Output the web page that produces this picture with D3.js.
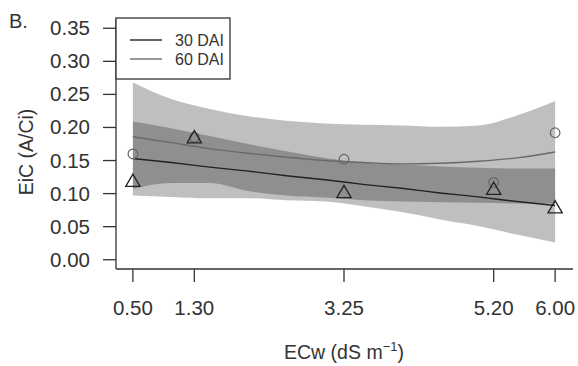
<!DOCTYPE html>
<html>
<head>
<meta charset="utf-8">
<script src="https://cdn.jsdelivr.net/npm/d3@7"></script>
<style>
  body { margin: 0; background: #fff; }
  text { font-family: "Liberation Sans", Arial, sans-serif; fill: #333; }
</style>
</head>
<body>
<div id="chart"></div>
<script>
// observed salinity levels and the two sampling dates
var levels = [0.50, 1.30, 3.25, 5.20, 6.00];
var levelLabels = ["0.50", "1.30", "3.25", "5.20", "6.00"];
var obs30 = [0.117, 0.183, 0.100, 0.105, 0.077];
var obs60 = [0.160, 0.185, 0.152, 0.117, 0.192];

// fitted curves and confidence bands
var fitX = [0.5, 1.0, 1.5, 2.0, 2.5, 3.0, 3.5, 4.0, 4.5, 5.0, 5.5, 6.0];
var fit30 = [0.153, 0.147, 0.140, 0.134, 0.127, 0.121, 0.114, 0.108, 0.101, 0.095, 0.088, 0.082];
var up30 = [0.209, 0.199, 0.187, 0.175, 0.164, 0.154, 0.147, 0.144, 0.141, 0.139, 0.138, 0.138];
var lo30 = [0.097, 0.095, 0.093, 0.093, 0.090, 0.088, 0.081, 0.072, 0.061, 0.051, 0.038, 0.026];
var fit60 = [0.186, 0.177, 0.168, 0.161, 0.155, 0.150, 0.147, 0.145, 0.146, 0.149, 0.154, 0.163];
var up60 = [0.268, 0.243, 0.228, 0.217, 0.210, 0.206, 0.204, 0.203, 0.201, 0.203, 0.218, 0.240];
var lo60 = [0.107, 0.116, 0.116, 0.104, 0.097, 0.094, 0.090, 0.088, 0.087, 0.086, 0.085, 0.085];

var yTicks = [0, 0.05, 0.10, 0.15, 0.20, 0.25, 0.30, 0.35];

var width = 578, height = 366;
var axisColor = "#333";

var svg = d3.select("#chart").append("svg")
    .attr("width", width)
    .attr("height", height);

// plot region like R's default 4% padding
var x = d3.scaleLinear().domain([0.28, 6.22]).range([116, 572]);
var y = d3.scaleLinear().domain([-0.014, 0.364]).range([269, 19]);

// bands: two translucent grey layers, overlap comes out darker
function band(up, lo) {
    return d3.area()
        .x(function(d, i) { return x(fitX[i]); })
        .y0(function(d, i) { return y(lo[i]); })
        .y1(function(d, i) { return y(up[i]); })
        .curve(d3.curveMonotoneX)(fitX);
}
svg.append("path").attr("d", band(up60, lo60))
    .attr("fill", "#000").attr("fill-opacity", 0.25);
svg.append("path").attr("d", band(up30, lo30))
    .attr("fill", "#000").attr("fill-opacity", 0.25);

// fitted lines
function fitLine(vals) {
    return d3.line()
        .x(function(d, i) { return x(fitX[i]); })
        .y(function(d, i) { return y(vals[i]); })
        .curve(d3.curveMonotoneX)(fitX);
}
svg.append("path").attr("d", fitLine(fit60))
    .attr("fill", "none").attr("stroke", "#6a6a6a").attr("stroke-width", 1.4);
svg.append("path").attr("d", fitLine(fit30))
    .attr("fill", "none").attr("stroke", "#222").attr("stroke-width", 1.4);

// points
svg.selectAll("circle.p60")
    .data(obs60)
    .enter()
    .append("circle")
    .attr("class", "p60")
    .attr("cx", function(d, i) { return x(levels[i]); })
    .attr("cy", function(d) { return y(d); })
    .attr("r", 4.8)
    .attr("fill", "none")
    .attr("stroke", "#666")
    .attr("stroke-width", 1.2);

var tri = d3.symbol().type(d3.symbolTriangle).size(88);
svg.selectAll("path.p30")
    .data(obs30)
    .enter()
    .append("path")
    .attr("class", "p30")
    .attr("d", tri)
    .attr("transform", function(d, i) {
        return "translate(" + x(levels[i]) + "," + y(d) + ")";
    })
    .attr("fill", "none")
    .attr("stroke", "#222")
    .attr("stroke-width", 1.3);

// axes (R style, box only left and bottom)
var axes = svg.append("g").attr("stroke", axisColor).attr("stroke-width", 1.3);
axes.append("line").attr("x1", 116).attr("x2", 116).attr("y1", 19).attr("y2", 269);
axes.append("line").attr("x1", 116).attr("x2", 573).attr("y1", 269).attr("y2", 269);

axes.selectAll("line.yt").data(yTicks).enter().append("line")
    .attr("class", "yt")
    .attr("x1", 103).attr("x2", 116)
    .attr("y1", function(d) { return y(d); })
    .attr("y2", function(d) { return y(d); });

axes.selectAll("line.xt").data(levels).enter().append("line")
    .attr("class", "xt")
    .attr("x1", function(d) { return x(d); })
    .attr("x2", function(d) { return x(d); })
    .attr("y1", 269).attr("y2", 282);

svg.selectAll("text.yl").data(yTicks).enter().append("text")
    .attr("class", "yl")
    .attr("x", 90)
    .attr("y", function(d) { return y(d) + 7; })
    .attr("text-anchor", "end")
    .style("font-size", "20.5px")
    .text(function(d) { return d3.format(".2f")(d); });

svg.selectAll("text.xl").data(levels).enter().append("text")
    .attr("class", "xl")
    .attr("x", function(d) { return x(d); })
    .attr("y", 315)
    .attr("text-anchor", "middle")
    .style("font-size", "20.5px")
    .text(function(d, i) { return levelLabels[i]; });

// axis titles
var xt = svg.append("text")
    .attr("x", x(3.25))
    .attr("y", 359)
    .attr("text-anchor", "middle")
    .style("font-size", "19.5px");
xt.append("tspan").text("ECw (dS m");
xt.append("tspan").attr("dy", -8).style("font-size", "13px").text("\u22121");
xt.append("tspan").attr("dy", 8).text(")");

svg.append("text")
    .attr("transform", "translate(33,152) rotate(-90)")
    .attr("text-anchor", "middle")
    .style("font-size", "19.5px")
    .text("EiC (A/Ci)");

svg.append("text")
    .attr("x", 9)
    .attr("y", 28)
    .style("font-size", "20px")
    .text("B.");

// legend
var leg = svg.append("g");
leg.append("rect")
    .attr("x", 116).attr("y", 18)
    .attr("width", 114).attr("height", 61)
    .attr("fill", "#fff")
    .attr("stroke", axisColor)
    .attr("stroke-width", 1.3);
var legItems = ["30 DAI", "60 DAI"];
var legColors = ["#222", "#6a6a6a"];
legItems.forEach(function(name, i) {
    var ly = 40 + i * 19;
    leg.append("line")
        .attr("x1", 130).attr("x2", 162)
        .attr("y1", ly).attr("y2", ly)
        .attr("stroke", legColors[i])
        .attr("stroke-width", 1.4);
    leg.append("text")
        .attr("x", 175).attr("y", ly + 6)
        .style("font-size", "16px")
        .text(name);
});
</script>
</body>
</html>
